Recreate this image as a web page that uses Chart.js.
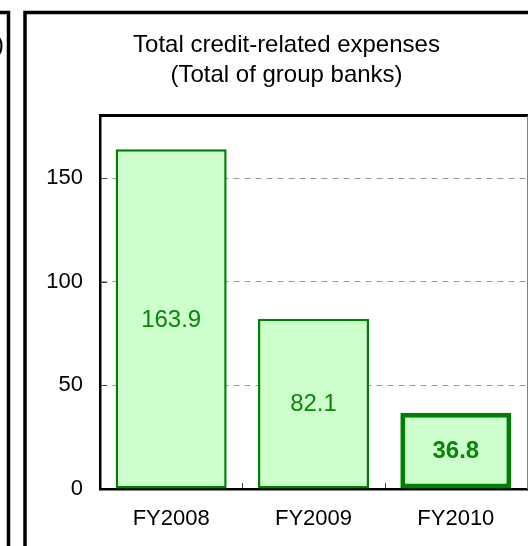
<!DOCTYPE html>
<html>
<head>
<meta charset="utf-8">
<script src="https://cdn.jsdelivr.net/npm/chart.js@4.4.1/dist/chart.umd.min.js"></script>
<style>
  html, body { margin: 0; padding: 0; background: #fff; }
  #wrap { width: 528px; height: 546px; }
</style>
</head>
<body>
<div id="wrap"><canvas id="creditChart" width="528" height="546"></canvas></div>
<script>
// data
const categories = ["FY2008", "FY2009", "FY2010"]
const expenses = [163.9, 82.1, 36.8]
const titleLines = ["Total credit-related expenses", "(Total of group banks)"]
const yTicks = [0, 50, 100, 150]
const yMax = 180

const FONT = "'Liberation Sans', Arial, sans-serif"
const GREEN = "#008000"

// ===============================
// frames + title (drawn first)
// ===============================
const framePlugin = {
  id: "frames",
  beforeDraw(chart) {
    const ctx = chart.ctx
    ctx.save()
    ctx.fillStyle = "#fff"
    ctx.fillRect(0, 0, chart.width, chart.height)

    ctx.strokeStyle = "#000"
    ctx.lineWidth = 3.5
    // neighbour panel, only its right edge shows
    ctx.beginPath()
    ctx.moveTo(-3, 12.5)
    ctx.lineTo(8.5, 12.5)
    ctx.lineTo(8.5, chart.height + 3)
    ctx.stroke()
    // this panel
    ctx.beginPath()
    ctx.moveTo(25, chart.height + 3)
    ctx.lineTo(25, 12.5)
    ctx.lineTo(chart.width + 3, 12.5)
    ctx.stroke()

    ctx.fillStyle = "#000"
    ctx.font = "24px " + FONT
    ctx.textBaseline = "alphabetic"
    // tail of the neighbour panel's title
    ctx.textAlign = "right"
    ctx.fillText(")", 4, 52)

    ctx.textAlign = "center"
    ctx.fillText(titleLines[0], 286.5, 52)
    ctx.fillText(titleLines[1], 286.5, 82)
    ctx.restore()
  }
}

// ===============================
// borders, small ticks, value labels
// ===============================
const overlayPlugin = {
  id: "overlay",
  afterDatasetsDraw(chart) {
    const ctx = chart.ctx
    const area = chart.chartArea
    const xs = chart.scales.x
    const ys = chart.scales.y
    ctx.save()

    // top + right border of plot
    ctx.strokeStyle = "#000"
    ctx.lineWidth = 3
    ctx.beginPath()
    ctx.moveTo(area.left - 1, area.top - 0.5)
    ctx.lineTo(area.right + 1, area.top - 0.5)
    ctx.stroke()
    ctx.strokeStyle = "#808080"
    ctx.lineWidth = 1
    ctx.beginPath()
    ctx.moveTo(area.right + 0.5, area.top)
    ctx.lineTo(area.right + 0.5, area.bottom)
    ctx.stroke()

    // inner tick marks
    ctx.strokeStyle = "#444"
    ctx.lineWidth = 1
    yTicks.forEach(v => {
      if (v === 0) return
      const y = Math.round(ys.getPixelForValue(v)) + 0.5
      ctx.beginPath()
      ctx.moveTo(area.left + 1, y)
      ctx.lineTo(area.left + 7, y)
      ctx.stroke()
    })
    for (let i = 0; i < categories.length - 1; i++) {
      const x = Math.round((xs.getPixelForValue(i) + xs.getPixelForValue(i + 1)) / 2) + 0.5
      ctx.beginPath()
      ctx.moveTo(x, area.bottom - 1)
      ctx.lineTo(x, area.bottom - 6)
      ctx.stroke()
    }

    // value labels
    const meta = chart.getDatasetMeta(0)
    ctx.fillStyle = "#0a850a"
    ctx.textAlign = "center"
    ctx.textBaseline = "middle"
    meta.data.forEach((bar, i) => {
      const last = i === expenses.length - 1
      ctx.font = (last ? "bold " : "") + "24px " + FONT
      ctx.fillText(expenses[i].toFixed(1), bar.x, (bar.y + bar.base) / 2 + 1)
    })
    ctx.restore()
  }
}

const ctx = document.getElementById("creditChart").getContext("2d")

new Chart(ctx, {
  type: "bar",
  data: {
    labels: categories,
    datasets: [{
      data: expenses,
      backgroundColor: "#ccffcc",
      borderColor: GREEN,
      borderWidth: [2.5, 2.5, 5],
      borderSkipped: false,
      barPercentage: 0.78,
      categoryPercentage: 1
    }]
  },
  options: {
    responsive: false,
    animation: false,
    devicePixelRatio: 1,
    layout: { padding: { top: 116, right: 1, left: 0, bottom: 0 } },
    plugins: {
      legend: { display: false },
      tooltip: { enabled: false },
      title: { display: false }
    },
    scales: {
      x: {
        grid: { display: false, drawTicks: false },
        border: { color: "#000", width: 2.5 },
        ticks: { color: "#000", font: { family: FONT, size: 22 }, padding: 17 },
        afterFit(scale) { scale.height = 57 }
      },
      y: {
        min: 0,
        max: yMax,
        afterBuildTicks(scale) { scale.ticks = yTicks.map(v => ({ value: v })) },
        grid: {
          drawTicks: false,
          lineWidth: 1,
          color: c => (c.tick && c.tick.value === 0) ? "rgba(0,0,0,0)" : "#999999"
        },
        border: { color: "#000", width: 2.5, dash: [6, 5] },
        ticks: { color: "#000", font: { family: FONT, size: 22 }, padding: 17 },
        afterFit(scale) { scale.width = 100 }
      }
    }
  },
  plugins: [framePlugin, overlayPlugin]
})
</script>
</body>
</html>
